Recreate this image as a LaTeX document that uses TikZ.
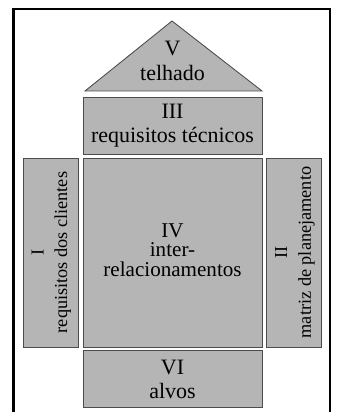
\documentclass[tikz,border=0pt]{standalone}
\usepackage{fontspec}
\setmainfont{Liberation Serif}
\usetikzlibrary{positioning}

\tikzset{
  part/.style={draw=black!70, fill=black!29, line width=0.5pt, inner sep=0pt, align=center,
    font=\fontsize{12.5}{13.3}\selectfont},
  wide/.style={part, minimum width=3.58cm, minimum height=1.14cm},
  side/.style={part, minimum width=1.1cm, minimum height=3.78cm},
  sidetext/.style={font=\fontsize{10.4}{13.5}\selectfont},
}

\begin{document}
\begin{tikzpicture}[x=0.02cm, y=-0.02cm, node distance=0.06cm and 0.08cm]
  \useasboundingbox (0,0) rectangle (336,412);
  % frame, open at the bottom
  \coordinate (frameBL) at (13.3,412);
  \coordinate (frameTR) at (330,9);
  \coordinate (frameBR) at (330,412);
  \draw[line width=0.054cm] (frameBL) |- (frameTR) -- (frameBR);

  % body of the house
  \node[part, minimum width=3.58cm, minimum height=3.78cm] (IV) at (172.5,252.5)
    {\raisebox{4pt}{\fontsize{12}{9.5}\selectfont\begin{tabular}{@{}c@{}}IV\\inter-\\relacionamentos\end{tabular}}};
  \node[wide, above=of IV] (III) {III\\requisitos técnicos};
  \node[wide, below=of IV] (VI) {VI\\alvos};
  \node[side, left=of IV] (I)
    {\rotatebox{90}{\fontsize{10.4}{13.5}\selectfont\begin{tabular}{@{}c@{}}I\\requisitos dos clientes\end{tabular}}};
  \node[side, right=of IV] (II)
    {\rotatebox{90}{\fontsize{10.4}{13.5}\selectfont\begin{tabular}{@{}c@{}}II\\matriz de planejamento\end{tabular}}};

  % roof
  \coordinate (roofL) at (85,91);
  \coordinate (roofR) at (262,91);
  \coordinate (roofTop) at (172,21);
  \draw[part] (roofL) -- (roofTop) -- (roofR) -- cycle;
  \node[part, draw=none, fill=none, font=\fontsize{12.5}{14.6}\selectfont] (V) at (172.5,61) {V\\telhado};
\end{tikzpicture}
\end{document}
